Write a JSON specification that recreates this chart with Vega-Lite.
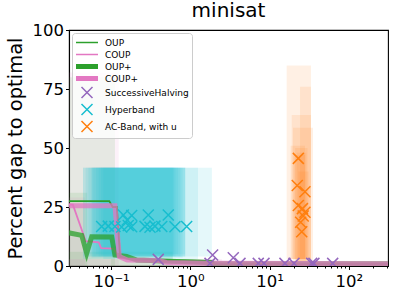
{
  "$schema": "https://vega.github.io/schema/vega-lite/v6.json",
  "width": 319,
  "height": 236,
  "autosize": {"type": "none"},
  "padding": {"left": 69, "top": 30, "right": 7, "bottom": 32},
  "background": "white",
  "title": {"text": "minisat", "dy": 3},
  "datasets": {
    "bands": [
      {"g": "p", "a": 0.025, "b": 0.125, "lo": 0, "hi": 82},
      {"g": "g", "a": 0.025, "b": 0.112, "lo": 0, "hi": 80},
      {"g": "g", "a": 0.025, "b": 0.05, "lo": 0, "hi": 31},
      {"g": "p", "a": 0.025, "b": 0.047, "lo": 0, "hi": 29},
      {"g": "g", "a": 0.025, "b": 0.6, "lo": 0, "hi": 6},
      {"g": "g", "a": 0.1, "b": 2.0, "lo": 0, "hi": 3},
      {"g": "p", "a": 0.025, "b": 2.5, "lo": 0, "hi": 3},
      {"g": "p", "a": 0.5, "b": 400, "lo": 0, "hi": 1.5},
      {"g": "c", "a": 0.0443, "b": 1.87, "lo": 4, "hi": 41.6},
      {"g": "c", "a": 0.0443, "b": 1.25, "lo": 3, "hi": 41.6},
      {"g": "c", "a": 0.048, "b": 0.86, "lo": 4, "hi": 41.6},
      {"g": "c", "a": 0.052, "b": 0.86, "lo": 5, "hi": 41.6},
      {"g": "c", "a": 0.057, "b": 0.86, "lo": 4, "hi": 41.6},
      {"g": "c", "a": 0.057, "b": 0.8, "lo": 3.5, "hi": 41.6},
      {"g": "c", "a": 0.06, "b": 0.75, "lo": 4, "hi": 41.6},
      {"g": "c", "a": 0.065, "b": 0.7, "lo": 5, "hi": 41.6},
      {"g": "c", "a": 0.07, "b": 0.65, "lo": 4, "hi": 41.6},
      {"g": "c", "a": 0.075, "b": 0.62, "lo": 4.5, "hi": 41.6},
      {"g": "c", "a": 0.08, "b": 0.6, "lo": 3, "hi": 41.6},
      {"g": "o", "a": 16.4, "b": 33.2, "lo": 3, "hi": 85},
      {"g": "o", "a": 24.2, "b": 33.2, "lo": 3, "hi": 76},
      {"g": "o", "a": 19.0, "b": 33.2, "lo": 3, "hi": 64},
      {"g": "o", "a": 19.7, "b": 35.2, "lo": 2, "hi": 58.6},
      {"g": "o", "a": 18.4, "b": 27.9, "lo": 3, "hi": 51},
      {"g": "o", "a": 21, "b": 30, "lo": 2, "hi": 50},
      {"g": "o", "a": 22, "b": 29, "lo": 2, "hi": 48},
      {"g": "o", "a": 20.5, "b": 28, "lo": 3, "hi": 47},
      {"g": "o", "a": 23, "b": 31, "lo": 2, "hi": 40}
    ],
    "thin": [
      {"series": "OUP", "t": 0.025, "gap": 27.5},
      {"series": "OUP", "t": 0.095, "gap": 27.5},
      {"series": "OUP", "t": 0.105, "gap": 25},
      {"series": "OUP", "t": 0.118, "gap": 25},
      {"series": "OUP", "t": 0.13, "gap": 4},
      {"series": "OUP", "t": 0.16, "gap": 3},
      {"series": "OUP", "t": 0.5, "gap": 2.5},
      {"series": "OUP", "t": 1.9, "gap": 2.2},
      {"series": "OUP", "t": 2.0, "gap": 0.8},
      {"series": "OUP", "t": 400, "gap": 0.8},
      {"series": "COUP", "t": 0.025, "gap": 26},
      {"series": "COUP", "t": 0.033, "gap": 26},
      {"series": "COUP", "t": 0.048, "gap": 10.5},
      {"series": "COUP", "t": 0.07, "gap": 10},
      {"series": "COUP", "t": 0.075, "gap": 7.6},
      {"series": "COUP", "t": 0.108, "gap": 7.4},
      {"series": "COUP", "t": 0.125, "gap": 3.5},
      {"series": "COUP", "t": 0.2, "gap": 2.5},
      {"series": "COUP", "t": 0.6, "gap": 1.8},
      {"series": "COUP", "t": 2, "gap": 1.0},
      {"series": "COUP", "t": 400, "gap": 0.8}
    ],
    "thick": [
      {"series": "OUP+", "t": 0.025, "gap": 14.5},
      {"series": "OUP+", "t": 0.0427, "gap": 13},
      {"series": "OUP+", "t": 0.0493, "gap": 5.4},
      {"series": "OUP+", "t": 0.057, "gap": 12.4},
      {"series": "OUP+", "t": 0.102, "gap": 12.3},
      {"series": "OUP+", "t": 0.112, "gap": 4.7},
      {"series": "OUP+", "t": 0.157, "gap": 4},
      {"series": "OUP+", "t": 0.212, "gap": 2.5},
      {"series": "OUP+", "t": 0.553, "gap": 2},
      {"series": "OUP+", "t": 1.5, "gap": 1.5},
      {"series": "OUP+", "t": 2.0, "gap": 1.0},
      {"series": "OUP+", "t": 400, "gap": 0.9},
      {"series": "COUP+", "t": 0.025, "gap": 25.5},
      {"series": "COUP+", "t": 0.112, "gap": 25.5},
      {"series": "COUP+", "t": 0.127, "gap": 4},
      {"series": "COUP+", "t": 0.16, "gap": 2.5},
      {"series": "COUP+", "t": 0.4, "gap": 2.3},
      {"series": "COUP+", "t": 0.5, "gap": 1.5},
      {"series": "COUP+", "t": 2, "gap": 1.2},
      {"series": "COUP+", "t": 400, "gap": 0.9}
    ],
    "pts": [
      {"series": "SuccessiveHalving", "t": 0.394, "gap": 2.8},
      {"series": "SuccessiveHalving", "t": 1.91, "gap": 4.7},
      {"series": "SuccessiveHalving", "t": 1.77, "gap": 1.1},
      {"series": "SuccessiveHalving", "t": 3.48, "gap": 3.5},
      {"series": "SuccessiveHalving", "t": 4.23, "gap": 1.1},
      {"series": "SuccessiveHalving", "t": 7.19, "gap": 1.1},
      {"series": "SuccessiveHalving", "t": 8.49, "gap": 1.1},
      {"series": "SuccessiveHalving", "t": 15.6, "gap": 1.1},
      {"series": "SuccessiveHalving", "t": 20.3, "gap": 1.1},
      {"series": "SuccessiveHalving", "t": 33.9, "gap": 1.1},
      {"series": "SuccessiveHalving", "t": 36.2, "gap": 1.1},
      {"series": "SuccessiveHalving", "t": 62.4, "gap": 1.1},
      {"series": "Hyperband", "t": 0.0761, "gap": 16.7},
      {"series": "Hyperband", "t": 0.0923, "gap": 16.9},
      {"series": "Hyperband", "t": 0.112, "gap": 16.7},
      {"series": "Hyperband", "t": 0.136, "gap": 16.5},
      {"series": "Hyperband", "t": 0.165, "gap": 17.2},
      {"series": "Hyperband", "t": 0.182, "gap": 16.6},
      {"series": "Hyperband", "t": 0.268, "gap": 16.8},
      {"series": "Hyperband", "t": 0.31, "gap": 16.4},
      {"series": "Hyperband", "t": 0.358, "gap": 16.9},
      {"series": "Hyperband", "t": 0.436, "gap": 16.7},
      {"series": "Hyperband", "t": 0.64, "gap": 16.6},
      {"series": "Hyperband", "t": 0.899, "gap": 16.7},
      {"series": "Hyperband", "t": 0.143, "gap": 21.6},
      {"series": "Hyperband", "t": 0.16, "gap": 19.5},
      {"series": "Hyperband", "t": 0.182, "gap": 21.4},
      {"series": "Hyperband", "t": 0.295, "gap": 21.6},
      {"series": "Hyperband", "t": 0.527, "gap": 21.6},
      {"series": "AC-Band, with u", "t": 23.0, "gap": 45.6},
      {"series": "AC-Band, with u", "t": 22.3, "gap": 34.1},
      {"series": "AC-Band, with u", "t": 27.9, "gap": 31.5},
      {"series": "AC-Band, with u", "t": 23.0, "gap": 25.6},
      {"series": "AC-Band, with u", "t": 25.9, "gap": 24.3},
      {"series": "AC-Band, with u", "t": 27.9, "gap": 22.8},
      {"series": "AC-Band, with u", "t": 26.5, "gap": 21.2},
      {"series": "AC-Band, with u", "t": 24.6, "gap": 18.5},
      {"series": "AC-Band, with u", "t": 25.4, "gap": 14.5}
    ]
  },
  "layer": [
    {
      "data": {"name": "bands"},
      "transform": [{"filter": "datum.g == 'g' || datum.g == 'p'"}],
      "mark": {"type": "rect", "opacity": 0.1, "clip": true},
      "encoding": {
        "x": {"field": "a", "type": "quantitative", "scale": {"type": "log", "domain": [0.0295, 311], "nice": false, "zero": false},
              "axis": {"orient": "bottom", "values": [0.1, 1, 10, 100], "title": null, "labelPadding": 4, "labelFlush": false,
                       "labelExpr": "datum.value < 0.5 ? '10⁻¹' : datum.value < 5 ? '10⁰' : datum.value < 50 ? '10¹' : '10²'"}},
        "x2": {"field": "b"},
        "y": {"field": "lo", "type": "quantitative", "scale": {"domain": [0, 100], "nice": false, "zero": false},
              "axis": {"values": [0, 25, 50, 75, 100], "title": "Percent gap to optimal", "titlePadding": 7, "labelPadding": 2, "labelFlush": false}},
        "y2": {"field": "hi"},
        "fill": {"field": "g", "type": "nominal", "legend": null,
                 "scale": {"domain": ["g", "p", "c", "o"], "range": ["#2ca02c", "#e377c2", "#17becf", "#ff7f0e"]}}
      }
    },
    {
      "data": {"name": "bands"},
      "transform": [{"filter": "datum.g == 'c' || datum.g == 'o'"}],
      "mark": {"type": "rect", "opacity": 0.115, "clip": true},
      "encoding": {
        "x": {"field": "a", "type": "quantitative", "scale": {"type": "log", "domain": [0.0295, 311], "nice": false, "zero": false}, "axis": null},
        "x2": {"field": "b"},
        "y": {"field": "lo", "type": "quantitative", "scale": {"domain": [0, 100], "nice": false, "zero": false},
              "axis": {"values": [0, 25, 50, 75, 100], "title": "Percent gap to optimal", "titlePadding": 7, "labelPadding": 2, "labelFlush": false}},
        "y2": {"field": "hi"},
        "fill": {"field": "g", "type": "nominal", "legend": null,
                 "scale": {"domain": ["g", "p", "c", "o"], "range": ["#2ca02c", "#e377c2", "#17becf", "#ff7f0e"]}}
      }
    },
    {
      "data": {"name": "thin"},
      "mark": {"type": "line", "strokeWidth": 1.8, "clip": true},
      "encoding": {
        "x": {"field": "t", "type": "quantitative", "scale": {"type": "log", "domain": [0.0295, 311], "nice": false, "zero": false}, "axis": null},
        "y": {"field": "gap", "type": "quantitative", "scale": {"domain": [0, 100], "nice": false, "zero": false},
              "axis": {"values": [0, 25, 50, 75, 100], "title": "Percent gap to optimal", "titlePadding": 7, "labelPadding": 2, "labelFlush": false}},
        "stroke": {"field": "series", "type": "nominal", "legend": null,
                   "scale": {"domain": ["OUP", "COUP", "OUP+", "COUP+"], "range": ["#2ca02c", "#e377c2", "#2ca02c", "#e377c2"]}}
      }
    },
    {
      "data": {"name": "thick"},
      "mark": {"type": "line", "strokeWidth": 5, "opacity": 0.75, "clip": true},
      "encoding": {
        "x": {"field": "t", "type": "quantitative", "scale": {"type": "log", "domain": [0.0295, 311], "nice": false, "zero": false}, "axis": null},
        "y": {"field": "gap", "type": "quantitative", "scale": {"domain": [0, 100], "nice": false, "zero": false},
              "axis": {"values": [0, 25, 50, 75, 100], "title": "Percent gap to optimal", "titlePadding": 7, "labelPadding": 2, "labelFlush": false}},
        "stroke": {"field": "series", "type": "nominal", "legend": null,
                   "scale": {"domain": ["OUP", "COUP", "OUP+", "COUP+"], "range": ["#2ca02c", "#e377c2", "#2ca02c", "#e377c2"]}}
      }
    },
    {
      "data": {"name": "pts"},
      "mark": {"type": "point", "filled": false, "size": 121, "strokeWidth": 1.5, "opacity": 1, "clip": true},
      "encoding": {
        "x": {"field": "t", "type": "quantitative", "scale": {"type": "log", "domain": [0.0295, 311], "nice": false, "zero": false},
              "axis": {"orient": "bottom", "values": [0.03, 0.04, 0.05, 0.06, 0.07, 0.08, 0.09, 0.2, 0.3, 0.4, 0.5, 0.6, 0.7, 0.8, 0.9, 2, 3, 4, 5, 6, 7, 8, 9, 20, 30, 40, 50, 60, 70, 80, 90, 200, 300],
                       "labels": false, "tickSize": 2, "domain": false, "title": null}},
        "y": {"field": "gap", "type": "quantitative", "scale": {"domain": [0, 100], "nice": false, "zero": false},
              "axis": {"values": [0, 25, 50, 75, 100], "title": "Percent gap to optimal", "titlePadding": 7, "labelPadding": 2, "labelFlush": false}},
        "color": {"field": "series", "type": "nominal", "legend": {"title": null},
                  "scale": {"domain": ["OUP", "COUP", "OUP+", "COUP+", "SuccessiveHalving", "Hyperband", "AC-Band, with u"],
                            "range": ["#2ca02c", "#e377c2", "#2ca02c", "#e377c2", "#9467bd", "#17becf", "#ff7f0e"]}},
        "shape": {"field": "series", "type": "nominal", "legend": {"title": null},
                  "scale": {"domain": ["OUP", "COUP", "OUP+", "COUP+", "SuccessiveHalving", "Hyperband", "AC-Band, with u"],
                            "range": ["M-2,0L2,0", "M-2,0L2,0",
                                      "M-2,-0.3L2,-0.3M-2,-0.1L2,-0.1M-2,0.1L2,0.1M-2,0.3L2,0.3",
                                      "M-2,-0.3L2,-0.3M-2,-0.1L2,-0.1M-2,0.1L2,0.1M-2,0.3L2,0.3",
                                      "M-1,-1L1,1M-1,1L1,-1",
                                      "M-1,-1L1,1M-1,1L1,-1",
                                      "M-1,-1L1,1M-1,1L1,-1"]}}
      }
    }
  ],
  "resolve": {"axis": {"x": "independent"}},
  "config": {
    "view": {"stroke": "black", "strokeWidth": 1.1},
    "font": "DejaVu Sans",
    "axis": {"domainColor": "black", "tickColor": "black", "labelColor": "black", "titleColor": "black",
             "labelFont": "DejaVu Sans", "titleFont": "DejaVu Sans", "labelFontSize": 16.5, "titleFontSize": 19.5,
             "titleFontWeight": "normal", "grid": false, "tickSize": 3.5, "tickWidth": 1, "domainWidth": 1.1, "zindex": 1},
    "legend": {"orient": "top-left", "offset": 3, "padding": 3, "fillColor": "rgba(255,255,255,0.8)", "strokeColor": "#cccccc",
               "cornerRadius": 3, "labelFont": "DejaVu Sans", "labelFontSize": 9, "labelColor": "black",
               "symbolSize": 121, "symbolStrokeWidth": 1.5, "symbolFillColor": "transparent", "symbolOffset": 5.5,
               "rowPadding": 0, "labelOffset": 11.5},
    "title": {"font": "DejaVu Sans", "fontSize": 20, "fontWeight": "normal", "color": "black", "anchor": "middle", "frame": "group", "offset": 0}
  }
}
